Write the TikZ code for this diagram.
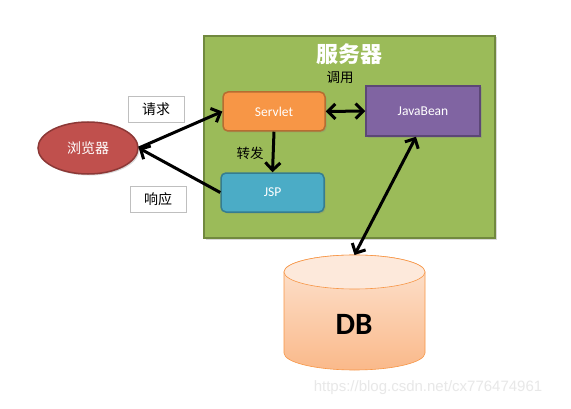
\documentclass[tikz,border=0pt]{standalone}
\usepackage{fontspec}
\setmainfont{Carlito}
\newfontfamily\cjk{Noto Sans CJK SC}
\newfontfamily\wmfont{Liberation Sans}
\usetikzlibrary{arrows.meta,shapes.geometric,shadows}
\definecolor{srvgreen}{HTML}{9BBB59}
\definecolor{srvborder}{HTML}{71893F}
\definecolor{orfill}{HTML}{F79646}
\definecolor{orborder}{HTML}{B66D31}
\definecolor{pufill}{HTML}{8064A2}
\definecolor{puborder}{HTML}{5C4776}
\definecolor{blfill}{HTML}{4BACC6}
\definecolor{blborder}{HTML}{357D91}
\definecolor{rdfill}{HTML}{C0504D}
\definecolor{rdborder}{HTML}{8C3836}
\definecolor{dbtopc}{HTML}{FDE4D2}
\definecolor{dbbotc}{HTML}{FAB98A}
\begin{document}
\begin{tikzpicture}[x=1pt,y=1pt,
  shd/.style={drop shadow={shadow xshift=1.5pt,shadow yshift=-1.5pt,opacity=0.3}},
  comp/.style={draw,line width=1.5pt,minimum height=39pt,text=white,font=\fontsize{13.5}{15}\selectfont,shd},
  lbl/.style={draw=gray!50,fill=white,minimum width=56pt,minimum height=26pt,font=\cjk\fontsize{14}{16}\selectfont},
  arr/.style={line width=3pt,-{Straight Barb[length=7.5pt,width=15pt]}},
  darr/.style={line width=3pt,{Straight Barb[length=7.5pt,width=15pt]}-{Straight Barb[length=7.5pt,width=15pt]}}]
\useasboundingbox (0,0) rectangle (571,408);
\fill[white] (0,0) rectangle (571,408);
% server box
\node[draw=srvborder,fill=srvgreen,line width=2pt,minimum width=291pt,minimum height=202pt,inner sep=0pt,shd] (server) at (349.5,271) {};
\node[text=white,font=\cjk\bfseries\fontsize{22}{25}\selectfont] (title) at (349,354) {服务器};
\node[font=\cjk\fontsize{13.5}{15}\selectfont] (call) at (340,330) {调用};
\node[comp,fill=orfill,draw=orborder,rounded corners=5pt,minimum width=102pt] (servlet) at (274,296.5) {Servlet};
\node[comp,fill=pufill,draw=puborder,minimum width=114pt,minimum height=50pt] (javabean) at (423,297) {JavaBean};
\node[comp,fill=blfill,draw=blborder,rounded corners=5pt,minimum width=103pt] (jsp) at (272.5,215.5) {JSP};
\node[font=\cjk\fontsize{13.5}{15}\selectfont] (fwd) at (250,255) {转发};
% browser
\node[ellipse,draw=rdborder,fill=rdfill,line width=1.5pt,minimum width=100pt,minimum height=52pt,text=white,font=\cjk\fontsize{14}{16}\selectfont,shd] (browser) at (88,260) {浏览器};
\node[lbl] (req) at (156,299) {请求};
\node[lbl] (resp) at (158,209) {响应};
% DB cylinder
\coordinate (dbtop) at (354.5,153);
\shade[top color=dbtopc,bottom color=dbbotc,draw=orfill,line width=0.6pt]
  (284,136) -- (284,55) arc[start angle=180,end angle=360,x radius=70.5,y radius=17] -- (425,136)
  arc[start angle=0,end angle=180,x radius=70.5,y radius=17] -- cycle;
\fill[dbtopc!80!white,draw=orfill,line width=0.6pt] (354.5,136) ellipse[x radius=70.5,y radius=17];
\node[font=\bfseries\fontsize{31}{34}\selectfont] (db) at (354,84) {DB};
% arrows
\draw[arr] (browser.east) -- (servlet.west);
\draw[arr] (jsp.west) -- (browser.east);
\draw[darr] (servlet.east) -- (javabean.west);
\draw[arr] (servlet.south) -- (jsp.north);
\coordinate (jbb) at ([xshift=-7pt]javabean.south);
\draw[darr] (jbb) -- (dbtop);
% watermark
\node[text=gray!18,font=\wmfont\fontsize{15}{17}\selectfont] (wm) at (428,20) {https://blog.csdn.net/cx776474961};
\end{tikzpicture}
\end{document}
